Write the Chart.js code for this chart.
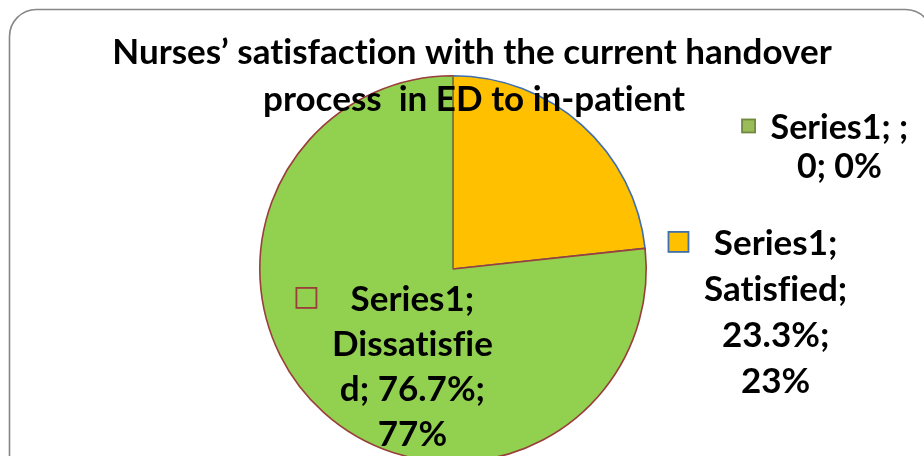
<!DOCTYPE html>
<html><head><meta charset="utf-8">
<script src="https://cdn.jsdelivr.net/npm/chart.js@4/dist/chart.umd.min.js"></script>
<style>
html,body{margin:0;padding:0;overflow:hidden;background:#fff;}
#wrap{width:924px;height:456px;overflow:hidden;position:relative;}
canvas{position:absolute;left:0;top:0;}
</style></head><body>
<div id="wrap"><canvas id="c" width="924" height="480"></canvas></div>
<script>
// Survey result: nurses' satisfaction with ED to in-patient handover
const seriesName = 'Series1';
const categories = ['', 'Satisfied', 'Dissatisfied'];
const values = [0, 23.3, 76.7];
const titleLines = ['Nurses\u2019 satisfaction with the current handover', 'process  in ED to in-patient'];

const fillColors = ['#9BBB59', '#FFC000', '#92D050'];
const edgeColors = ['#71893F', '#3F6FAE', '#9A3E3B'];

const FONT = 'Lato, "Liberation Sans", sans-serif';

// label block placement, relative to the pie centre (in radii) + text style
const labelStyle = [
  { dx: 2.0,  dy: -0.73, size: 34, lineH: 39, maxW: 165, key: 14 },
  { dx: 1.67, dy: -0.13, size: 35, lineH: 46, maxW: 150, key: 21 },
  { dx: -0.21, dy: 0.16, size: 35, lineH: 45, maxW: 163, key: 21 }
];

function valueText(v) { return v === 0 ? '0' : v.toFixed(1) + '%'; }

function wrapText(ctx, text, maxW) {
  const words = text.split(' ');
  const lines = [];
  let cur = '';
  for (const w of words) {
    const cand = cur === '' ? w : cur + ' ' + w;
    if (ctx.measureText(cand).width <= maxW) { cur = cand; continue; }
    if (cur !== '') { lines.push(cur); cur = ''; }
    let piece = '';
    for (const ch of w) {
      if (ctx.measureText(piece + ch).width > maxW && piece !== '') { lines.push(piece); piece = ch; }
      else piece += ch;
    }
    cur = piece;
  }
  if (cur !== '') lines.push(cur);
  return lines;
}

function plainText(ctx) {
  // keep letters separate (no fi / ti ligatures)
  if ('letterSpacing' in ctx) ctx.letterSpacing = '0.01px';
  if ('textRendering' in ctx) ctx.textRendering = 'optimizeSpeed';
}

const framePlugin = {
  id: 'frame',
  beforeDraw(chart) {
    const ctx = chart.ctx;
    ctx.save();
    ctx.fillStyle = '#ffffff';
    ctx.fillRect(0, 0, chart.width, chart.height);
    ctx.beginPath();
    ctx.roundRect(9.5, 9.5, 923, 520, 27);
    ctx.strokeStyle = '#868686';
    ctx.lineWidth = 1.6;
    ctx.stroke();
    ctx.restore();
  }
};

// zero-size slices still show their edge as a radius line
const zeroEdgePlugin = {
  id: 'zeroEdge',
  afterDatasetsDraw(chart) {
    const meta = chart.getDatasetMeta(0);
    const ctx = chart.ctx;
    meta.data.forEach((arc, i) => {
      if (values[i] !== 0) return;
      const a = arc.startAngle;
      ctx.save();
      ctx.strokeStyle = edgeColors[i];
      ctx.lineWidth = 1.6;
      ctx.beginPath();
      ctx.moveTo(arc.x, arc.y);
      ctx.lineTo(arc.x + Math.cos(a) * arc.outerRadius, arc.y + Math.sin(a) * arc.outerRadius);
      ctx.stroke();
      ctx.restore();
    });
  }
};

const textPlugin = {
  id: 'texts',
  afterDraw(chart) {
    const ctx = chart.ctx;
    const meta = chart.getDatasetMeta(0);
    const arc0 = meta.data[0];
    const cx = arc0.x, cy = arc0.y, R = arc0.outerRadius;
    const total = values.reduce((s, v) => s + v, 0);
    ctx.save();
    plainText(ctx);
    // data labels with legend keys
    values.forEach((v, i) => {
      const st = labelStyle[i];
      ctx.font = 'bold ' + st.size + 'px ' + FONT;
      const pct = Math.round(v / total * 100) + '%';
      const full = seriesName + '; ' + categories[i] + '; ' + valueText(v) + '; ' + pct;
      const lines = wrapText(ctx, full, st.maxW);
      const bx = cx + st.dx * R;
      const by = cy + st.dy * R;
      let widest = 0;
      lines.forEach(l => { widest = Math.max(widest, ctx.measureText(l).width); });
      ctx.fillStyle = '#000';
      ctx.textAlign = 'center';
      ctx.textBaseline = 'middle';
      lines.forEach((l, k) => ctx.fillText(l, bx, by + k * st.lineH));
      const k = st.key;
      const kx = bx - widest / 2 - 15 - k;
      const ky = by - k / 2 - 2;
      ctx.fillStyle = fillColors[i];
      ctx.fillRect(kx, ky, k, k);
      ctx.strokeStyle = edgeColors[i];
      ctx.lineWidth = 1.8;
      ctx.strokeRect(kx + 0.5, ky + 0.5, k - 1, k - 1);
    });
    // chart title, drawn over the pie
    ctx.font = 'bold 35px ' + FONT;
    ctx.fillStyle = '#000';
    ctx.textAlign = 'center';
    ctx.textBaseline = 'alphabetic';
    ctx.fillText(titleLines[0], 472, 64);
    ctx.fillText(titleLines[1], 474, 111);
    ctx.restore();
  }
};

new Chart(document.getElementById('c'), {
  type: 'pie',
  data: {
    labels: categories,
    datasets: [{
      label: seriesName,
      data: values,
      backgroundColor: fillColors,
      borderColor: edgeColors,
      borderWidth: 1.6,
      borderAlign: 'center'
    }]
  },
  options: {
    responsive: false,
    animation: false,
    layout: { padding: { left: 259, right: 277, top: 75, bottom: 17 } },
    plugins: {
      legend: { display: false },
      title: { display: false },
      tooltip: { enabled: false }
    }
  },
  plugins: [framePlugin, zeroEdgePlugin, textPlugin]
});
</script>
</body></html>
